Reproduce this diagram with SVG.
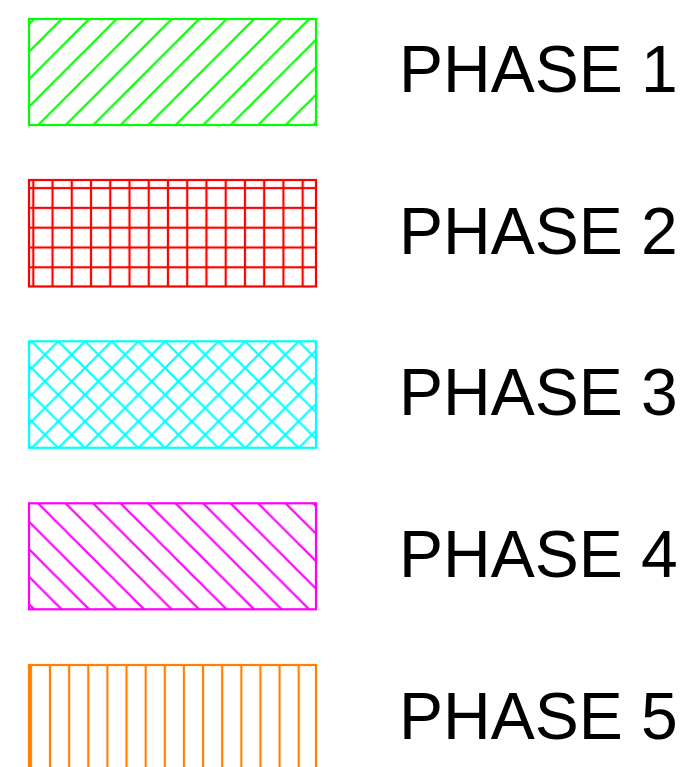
<svg xmlns="http://www.w3.org/2000/svg" width="692" height="767" viewBox="0 0 692 767">
  <style>
    .lbl { font-family: "Liberation Sans", Arial, sans-serif; font-size: 66px; fill: #000; }
    .box { fill: none; stroke-width: 2.2; }
    .h { fill: none; stroke-width: 2.2; }
  </style>
  <defs>
    <pattern id="pGreen" patternUnits="userSpaceOnUse" x="29" y="24.2" width="27.5" height="27.5">
      <path class="h" stroke="#00ff00" d="M0,27.5 L27.5,0 M-2,2 L2,-2 M25.5,29.5 L29.5,25.5"/>
    </pattern>
    <pattern id="pMag" patternUnits="userSpaceOnUse" x="29" y="26.7" width="27.5" height="27.5">
      <path class="h" stroke="#ff00ff" d="M0,0 L27.5,27.5 M25.5,-2 L29.5,2 M-2,25.5 L2,29.5"/>
    </pattern>
    <pattern id="pCyan" patternUnits="userSpaceOnUse" x="58.3" y="341.3" width="26.7" height="26.7">
      <path class="h" stroke="#00ffff" d="M0,26.7 L26.7,0 M0,0 L26.7,26.7 M-2,2 L2,-2 M24.7,28.7 L28.7,24.7 M24.7,-2 L28.7,2 M-2,24.7 L2,28.7"/>
    </pattern>
    <pattern id="pRedV" patternUnits="userSpaceOnUse" x="23.68" y="0" width="19.24" height="20">
      <path class="h" stroke="#ff0000" d="M9.62,-1 L9.62,21"/>
    </pattern>
    <pattern id="pRedH" patternUnits="userSpaceOnUse" x="0" y="178.2" width="20" height="19.8">
      <path class="h" stroke="#ff0000" d="M-1,9.9 L21,9.9"/>
    </pattern>
    <pattern id="pOrange" patternUnits="userSpaceOnUse" x="21.33" y="0" width="19.13" height="20">
      <path class="h" stroke="#ff8000" d="M9.57,-1 L9.57,21"/>
    </pattern>
  </defs>

  <g id="phase1">
    <rect x="29" y="19" width="287" height="106" fill="url(#pGreen)"/>
    <rect class="box" x="29" y="19" width="287" height="106" stroke="#00ff00"/>
    <text class="lbl" x="399" y="92">PHASE 1</text>
  </g>

  <g id="phase2">
    <rect x="29" y="180" width="287" height="106.5" fill="url(#pRedV)"/>
    <rect x="29" y="180" width="287" height="106.5" fill="url(#pRedH)"/>
    <rect class="box" x="29" y="180" width="287" height="106.5" stroke="#ff0000"/>
    <text class="lbl" x="399" y="253.7">PHASE 2</text>
  </g>

  <g id="phase3">
    <rect x="29" y="341.3" width="287" height="106.5" fill="url(#pCyan)"/>
    <rect class="box" x="29" y="341.3" width="287" height="106.5" stroke="#00ffff"/>
    <text class="lbl" x="399" y="415.3">PHASE 3</text>
  </g>

  <g id="phase4">
    <rect x="29" y="503.3" width="287" height="106" fill="url(#pMag)"/>
    <rect class="box" x="29" y="503.3" width="287" height="106" stroke="#ff00ff"/>
    <text class="lbl" x="399" y="577">PHASE 4</text>
  </g>

  <g id="phase5">
    <rect x="29" y="665" width="287" height="120" fill="url(#pOrange)"/>
    <rect class="box" x="29" y="665" width="287" height="120" stroke="#ff8000"/>
    <text class="lbl" x="399" y="738.7">PHASE 5</text>
  </g>
</svg>
